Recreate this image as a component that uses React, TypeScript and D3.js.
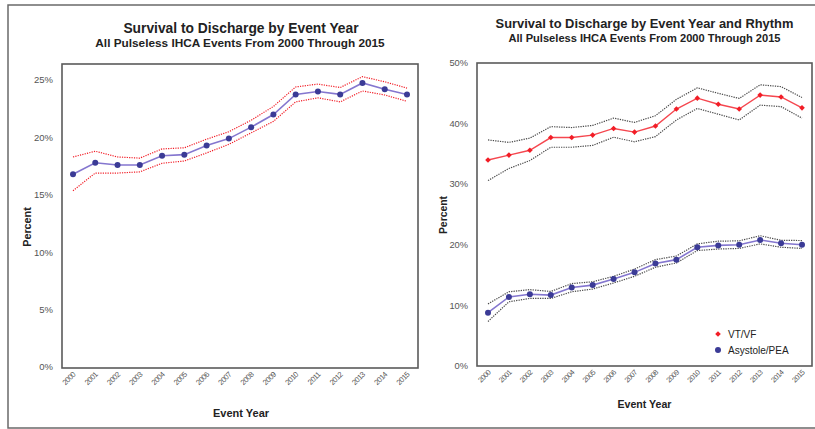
import React from "react";
import * as d3 from "d3";

const years = [2000, 2001, 2002, 2003, 2004, 2005, 2006, 2007, 2008, 2009, 2010, 2011, 2012, 2013, 2014, 2015];

// Left chart: overall survival (%)
const overall = [16.8, 17.8, 17.6, 17.6, 18.4, 18.5, 19.3, 19.9, 20.9, 22.0, 23.75, 24.0, 23.75, 24.75, 24.2, 23.75];
const overallUpper = [18.3, 18.8, 18.3, 18.2, 19.0, 19.1, 19.85, 20.5, 21.5, 22.7, 24.4, 24.65, 24.35, 25.3, 24.85, 24.3];
const overallLower = [15.35, 16.9, 16.9, 17.0, 17.75, 17.95, 18.65, 19.4, 20.4, 21.4, 23.1, 23.45, 23.1, 24.05, 23.7, 23.15];

// Right chart: by rhythm (%)
const vtvf = [34.0, 34.8, 35.6, 37.7, 37.7, 38.1, 39.2, 38.6, 39.6, 42.4, 44.2, 43.2, 42.4, 44.7, 44.4, 42.6];
const vtvfUpper = [37.3, 36.9, 37.6, 39.5, 39.35, 39.7, 40.9, 40.2, 41.3, 44.0, 45.9, 45.0, 44.15, 46.4, 46.1, 44.3];
const vtvfLower = [30.6, 32.6, 33.9, 36.1, 36.1, 36.4, 37.75, 37.0, 37.85, 40.6, 42.5, 41.55, 40.6, 43.05, 42.8, 40.9];

const asys = [8.8, 11.4, 11.85, 11.7, 12.95, 13.35, 14.35, 15.45, 16.9, 17.55, 19.6, 19.9, 20.0, 20.8, 20.25, 20.0];
const asysUpper = [10.25, 12.25, 12.6, 12.3, 13.6, 13.9, 14.8, 16.0, 17.55, 18.15, 20.15, 20.6, 20.65, 21.5, 20.75, 20.7];
const asysLower = [7.35, 10.6, 11.15, 11.15, 12.25, 12.7, 13.7, 14.8, 16.3, 17.0, 19.05, 19.3, 19.4, 20.15, 19.6, 19.4];

const leftTicks = [0, 5, 10, 15, 20, 25];
const rightTicks = [0, 10, 20, 30, 40, 50];
const legendLabels = ["VT/VF", "Asystole/PEA"];

const FONT = "Arial, 'Liberation Sans', Helvetica, sans-serif";
const BLUE = "#3b3b96";
const PURPLE_LINE = "#8476cf";
const RED = "#f21d26";
const RED_LINE = "#f5474f";

function pathOf(xs: d3.ScaleLinear<number, number>, ys: d3.ScaleLinear<number, number>, vals: number[]) {
  const line = d3.line<number>().x((_, i) => xs(years[i])).y((v) => ys(v));
  return line(vals) || "";
}

export default function App() {
  // Left panel scales
  const lx = d3.scaleLinear().domain([2000, 2015]).range([73, 407]);
  const ly = d3.scaleLinear().domain([0, 26.4]).range([367, 64]);
  // Right panel scales
  const rx = d3.scaleLinear().domain([2000, 2015]).range([488, 802]);
  const ry = d3.scaleLinear().domain([0, 50]).range([366, 63]);

  const redMark = d3.symbol().type(d3.symbolDiamond2 || d3.symbolDiamond).size(20)() || "";

  return (
    <svg width={815} height={429} style={{ position: "absolute", left: 0, top: 0, background: "#fff" }} fontFamily={FONT}>
      <rect x={0} y={0} width={815} height={429} fill="#fff" />
      {/* outer frame */}
      <path d="M815,5 L8,5 L8,428 L815,428" fill="none" stroke="#6a6a6a" strokeWidth={1.5} />

      {/* ---------- Left panel ---------- */}
      <text x={241} y={33} textAnchor="middle" fontWeight="bold" fontSize={13.8} fill="#222">Survival to Discharge by Event Year</text>
      <text x={240} y={46.5} textAnchor="middle" fontWeight="bold" fontSize={11.8} fill="#222">All Pulseless IHCA Events From 2000 Through 2015</text>
      <rect x={62} y={64} width={356} height={304} fill="none" stroke="#5a5a5a" strokeWidth={1.6} />
      {leftTicks.map((t) => (
        <text key={t} x={53} y={ly(t)} dy="0.35em" textAnchor="end" fontSize={9.5} fill="#555">{t}%</text>
      ))}
      {years.map((yr) => (
        <text key={yr} transform={`translate(${lx(yr) + 3},${375}) rotate(-45)`} textAnchor="end" fontSize={7.6} fill="#555" letterSpacing={-0.5}>{yr}</text>
      ))}
      <text transform={`translate(31,227) rotate(-90)`} textAnchor="middle" fontWeight="bold" fontSize={10.8} fill="#222">Percent</text>
      <text x={241} y={417} textAnchor="middle" fontWeight="bold" fontSize={11} fill="#222">Event Year</text>

      <path d={pathOf(lx, ly, overallUpper)} fill="none" stroke={RED} strokeWidth={1.2} strokeDasharray="1.2,1.2" />
      <path d={pathOf(lx, ly, overallLower)} fill="none" stroke={RED} strokeWidth={1.2} strokeDasharray="1.2,1.2" />
      <path d={pathOf(lx, ly, overall)} fill="none" stroke={PURPLE_LINE} strokeWidth={1.6} />
      {overall.map((v, i) => (
        <circle key={i} cx={lx(years[i])} cy={ly(v)} r={3} fill={BLUE} />
      ))}

      {/* ---------- Right panel ---------- */}
      <text x={644.5} y={28} textAnchor="middle" fontWeight="bold" fontSize={12.9} fill="#222">Survival to Discharge by Event Year and Rhythm</text>
      <text x={644.5} y={41.5} textAnchor="middle" fontWeight="bold" fontSize={11.1} fill="#222">All Pulseless IHCA Events From 2000 Through 2015</text>
      <rect x={477} y={63} width={335} height={303} fill="none" stroke="#5a5a5a" strokeWidth={1.6} />
      {rightTicks.map((t) => (
        <text key={t} x={468} y={ry(t)} dy="0.35em" textAnchor="end" fontSize={9.3} fill="#555">{t}%</text>
      ))}
      {years.map((yr) => (
        <text key={yr} transform={`translate(${rx(yr) + 3},${373}) rotate(-45)`} textAnchor="end" fontSize={7.3} fill="#555" letterSpacing={-0.5}>{yr}</text>
      ))}
      <text transform={`translate(447,215) rotate(-90)`} textAnchor="middle" fontWeight="bold" fontSize={10.4} fill="#222">Percent</text>
      <text x={644.5} y={408} textAnchor="middle" fontWeight="bold" fontSize={10.6} fill="#222">Event Year</text>

      {[vtvfUpper, vtvfLower, asysUpper, asysLower].map((s, k) => (
        <path key={k} d={pathOf(rx, ry, s)} fill="none" stroke="#4a4a4a" strokeWidth={1.2} strokeDasharray="1.3,1.1" />
      ))}
      <path d={pathOf(rx, ry, vtvf)} fill="none" stroke={RED_LINE} strokeWidth={1.4} />
      {vtvf.map((v, i) => (
        <path key={i} d={redMark} transform={`translate(${rx(years[i])},${ry(v)})`} fill={RED} />
      ))}
      <path d={pathOf(rx, ry, asys)} fill="none" stroke={PURPLE_LINE} strokeWidth={1.6} />
      {asys.map((v, i) => (
        <circle key={i} cx={rx(years[i])} cy={ry(v)} r={3} fill={BLUE} />
      ))}

      {/* legend */}
      <path d={redMark} transform="translate(718,334)" fill={RED} />
      <text x={728} y={337.5} fontSize={10} fill="#222">{legendLabels[0]}</text>
      <circle cx={718} cy={350} r={3} fill={BLUE} />
      <text x={728} y={353.5} fontSize={10} fill="#222">{legendLabels[1]}</text>
    </svg>
  );
}
